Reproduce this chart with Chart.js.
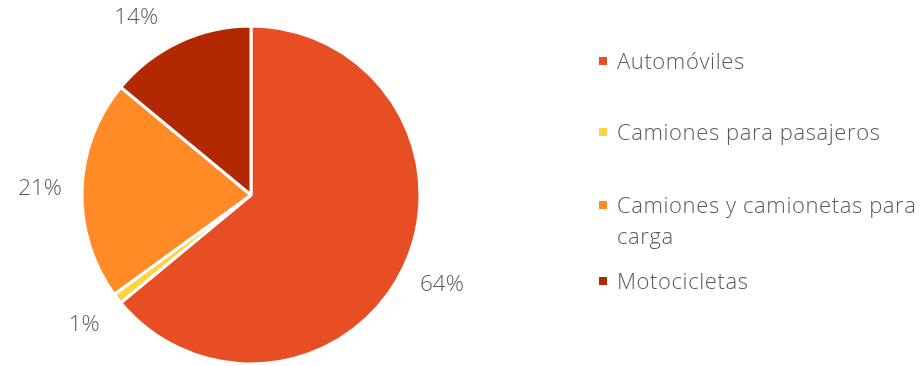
<!DOCTYPE html>
<html>
<head>
<meta charset="utf-8">
<script src="https://cdn.jsdelivr.net/npm/chart.js@4"></script>
<style>
  html, body { margin: 0; padding: 0; background: #fff; }
  #wrap { position: relative; width: 920px; height: 366px; overflow: hidden; }
  #legend { position: absolute; left: 599px; top: 0; width: 321px; font-family: "Open Sans", sans-serif; font-weight: 300; font-size: 22px; letter-spacing: 0.6px; color: #595959; }
  #legend .item { position: absolute; left: 0; width: 321px; display: flex; align-items: flex-start; line-height: 31px; }
  #legend .box { width: 8px; height: 8px; margin-top: 12px; margin-right: 10px; flex: none; }
</style>
</head>
<body>
<div id="wrap">
  <canvas id="vehiculos" width="920" height="366"></canvas>
  <div id="legend"></div>
</div>
<script>
var categorias = ["Automóviles", "Camiones para pasajeros", "Camiones y camionetas para carga", "Motocicletas"];
var porcentajes = [64, 1, 21, 14];
var colores = ['#e84e24', '#ffd23f', '#ff8a26', '#b22800'];
var legendTops = [45, 116, 189, 265];

// etiquetas de porcentaje por fuera de cada rebanada;
// si una se sale por arriba se desliza sobre el mismo círculo
var etiquetasFuera = {
    id: 'etiquetasFuera',
    afterDatasetsDraw: function(chart) {
        var ctx = chart.ctx;
        var meta = chart.getDatasetMeta(0);
        var minY = 18;
        ctx.save();
        ctx.font = '300 22.5px "Open Sans", sans-serif';
        ctx.fillStyle = '#595959';
        ctx.textAlign = 'center';
        ctx.textBaseline = 'middle';
        meta.data.forEach(function(arc, i) {
            var p = arc.getProps(['x', 'y', 'startAngle', 'endAngle', 'outerRadius'], true);
            var mid = (p.startAngle + p.endAngle) / 2;
            var r = p.outerRadius + 42;
            var lx = p.x + Math.cos(mid) * r;
            var ly = p.y + Math.sin(mid) * r;
            if (ly < minY) {
                var dy = p.y - minY;
                var dx = Math.sqrt(Math.max(r * r - dy * dy, 0));
                ly = minY;
                lx = p.x + (Math.cos(mid) < 0 ? -dx : dx);
            }
            ctx.fillText(porcentajes[i] + '%', lx, ly);
        });
        ctx.restore();
    }
};

var canvasElement = document.getElementById("vehiculos");
var config = {
    type: "pie",
    data: {
        labels: categorias,
        datasets: [{
            data: porcentajes,
            backgroundColor: colores,
            borderColor: '#ffffff',
            borderWidth: 3
        }]
    },
    options: {
        responsive: false,
        animation: false,
        layout: {
            padding: { left: 80.5, top: 24.5, right: 498.5, bottom: 0.5 }
        },
        plugins: {
            legend: { display: false },
            tooltip: { enabled: false }
        }
    },
    plugins: [etiquetasFuera]
};

var pieChart = new Chart(canvasElement, config);

// leyenda en HTML para poder partir el texto largo
var legendEl = document.getElementById("legend");
categorias.forEach(function(nombre, i) {
    var item = document.createElement("div");
    item.className = "item";
    item.style.top = legendTops[i] + "px";
    var box = document.createElement("span");
    box.className = "box";
    box.style.background = colores[i];
    var txt = document.createElement("span");
    txt.textContent = nombre;
    item.appendChild(box);
    item.appendChild(txt);
    legendEl.appendChild(item);
});
</script>
</body>
</html>
